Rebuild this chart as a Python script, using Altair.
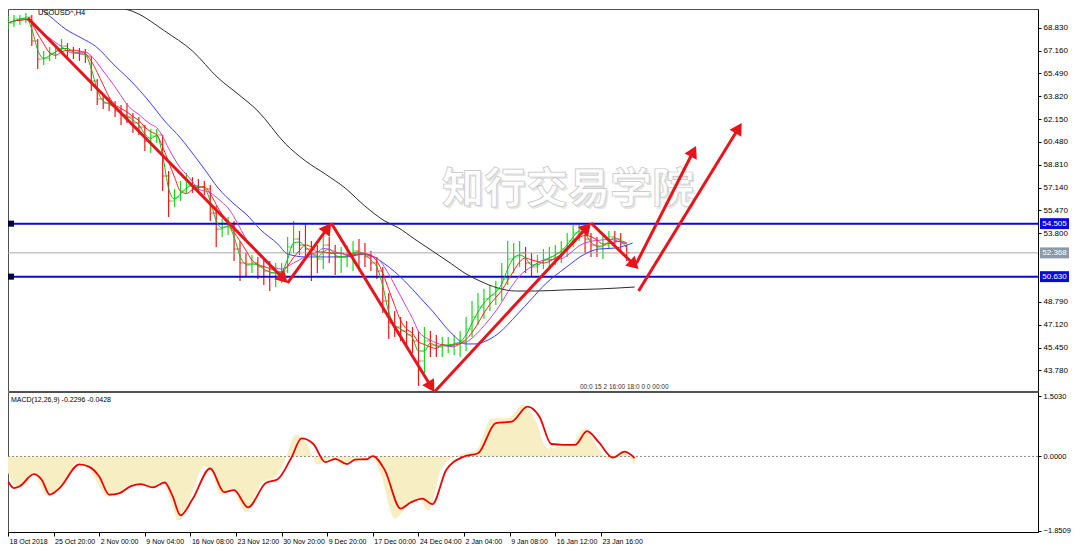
import math
import altair as alt
import pandas as pd

# ---------------- data ----------------
symbol_title = "USOUSD^,H4"
macd_title = "MACD(12,26,9) -0.2296 -0.0428"
watermark = "知行交易学院"
period_box = "00:0 15 2 16:00 18:0 0 0 00:00"

bar_step = 3  # H4 bars represented by each drawn bar
first_open = 69.03
bar_high = [69.68, 69.76, 69.76, 69.90, 69.76, 68.00, 67.13, 67.42, 67.56, 68.00,
            67.71, 67.42, 67.34, 67.27, 66.76, 65.08, 63.91, 63.76, 63.47, 63.18,
            63.32, 62.59, 62.30, 61.72, 61.42, 61.42, 60.99, 58.35, 57.04, 57.62,
            58.21, 57.91, 57.77, 57.62, 57.33, 55.79, 54.84, 54.99, 54.70, 53.24,
            52.36, 52.21, 52.07, 51.92, 51.77, 51.63, 51.63, 53.53, 54.70, 53.97,
            54.55, 53.24, 52.94, 53.82, 53.53, 52.94, 52.80, 52.94, 53.24, 53.38,
            53.09, 52.51, 52.07, 51.34, 49.44, 48.12, 47.68, 47.39, 46.95, 46.66,
            46.95, 46.66, 46.37, 46.22, 46.22, 46.37, 46.66, 47.68, 48.85, 49.44,
            49.73, 50.02, 50.31, 51.63, 53.24, 53.09, 53.24, 52.80, 52.36, 52.21,
            52.65, 52.80, 52.94, 53.24, 53.82, 54.41, 54.55, 54.26, 53.82, 53.53,
            53.68, 53.97, 53.97, 53.82, 52.94]
bar_low = [68.73, 68.88, 69.03, 69.17, 67.49, 65.81, 66.10, 66.39, 66.54, 66.98,
           66.69, 66.54, 66.39, 66.25, 64.20, 63.18, 62.89, 62.74, 62.30, 61.72,
           61.86, 61.13, 60.99, 59.82, 59.67, 60.40, 56.89, 54.99, 55.72, 56.16,
           56.75, 56.75, 56.75, 56.60, 54.70, 52.80, 53.53, 53.68, 51.77, 50.31,
           50.60, 50.90, 50.46, 50.02, 49.58, 49.87, 50.17, 50.90, 52.36, 52.21,
           51.92, 50.31, 50.90, 51.19, 51.63, 50.75, 50.90, 51.34, 51.04, 51.19,
           51.34, 51.04, 50.46, 47.97, 46.07, 46.22, 45.93, 45.49, 45.05, 42.64,
           43.59, 44.76, 44.76, 44.76, 45.05, 44.90, 44.76, 45.20, 46.22, 47.10,
           47.53, 48.12, 48.56, 48.85, 50.02, 50.90, 51.34, 50.90, 50.60, 50.90,
           51.19, 51.34, 51.48, 51.63, 52.07, 52.80, 53.24, 52.36, 52.07, 52.07,
           51.92, 52.65, 52.80, 52.36, 51.77]
bar_close = [69.17, 69.47, 69.47, 69.61, 67.86, 66.54, 66.61, 66.98, 67.13, 67.49,
             67.13, 66.98, 66.91, 66.76, 64.93, 63.62, 63.32, 63.18, 62.74, 62.45,
             62.30, 61.86, 61.57, 60.55, 60.91, 60.99, 57.99, 56.16, 56.45, 56.89,
             57.33, 57.26, 57.18, 57.04, 55.28, 54.11, 54.26, 54.41, 52.65, 51.63,
             51.48, 51.63, 51.34, 51.04, 50.90, 50.90, 51.04, 52.80, 53.38, 52.94,
             52.65, 52.21, 51.92, 52.94, 52.36, 52.07, 52.07, 52.21, 52.51, 52.36,
             52.07, 51.63, 51.04, 48.85, 47.24, 46.95, 46.66, 46.37, 45.93, 44.46,
             45.93, 45.63, 45.49, 45.63, 45.63, 45.78, 45.93, 46.80, 47.68, 48.41,
             49.00, 49.29, 49.73, 50.46, 51.92, 52.07, 52.36, 51.63, 51.34, 51.63,
             51.92, 52.07, 52.36, 52.65, 53.24, 53.82, 54.11, 53.38, 52.94, 52.80,
             52.94, 53.53, 53.38, 53.09, 52.37]

blue_ma_bar = [10, 13, 21, 29, 37, 44, 54, 62, 71, 79, 87, 91, 99, 106, 114, 120, 127, 136, 141, 150,
               160, 170, 180, 190, 200, 208, 214, 224, 231, 236, 241, 247, 257, 264, 271, 281, 291, 298, 306, 315]
blue_ma_val = [70.78, 70.56, 69.68, 68.73, 68.08, 67.49, 66.03, 64.93, 63.47, 62.01,
               60.77, 60.04, 58.50, 57.11, 55.94, 55.21, 54.11, 53.02, 52.29, 52.07,
               52.07, 52.07, 52.29, 51.56, 50.31, 49.07, 48.12, 46.44, 45.71, 45.71,
               45.93, 46.44, 47.90, 49.00, 50.09, 51.26, 52.29, 52.65, 52.72, 53.09]
black_ma_bar = [48, 52, 66, 79, 93, 106, 116, 126, 140, 150, 160, 170, 180, 190, 197, 205, 214, 223, 231,
                238, 247, 256, 266, 281, 298, 316]
black_ma_val = [70.85, 70.56, 69.83, 68.59, 67.13, 65.15, 63.98, 62.74, 60.33, 59.09,
                58.13, 57.11, 55.79, 54.70, 54.19, 53.38, 52.51, 51.63, 50.83, 50.31,
                49.80, 49.58, 49.58, 49.66, 49.73, 49.87]

level_values = [54.505, 50.630]
current_price = 52.368

arrow_from_bar = [10, 141, 163, 215, 294, 317, 318]
arrow_from_price = [69.54, 50.17, 54.55, 42.20, 54.55, 51.63, 49.58]
arrow_to_bar = [141, 163, 215, 294, 318, 347, 370]
arrow_to_price = [50.17, 54.55, 42.20, 54.55, 51.19, 60.18, 61.86]

macd_sig_bar = [0, 3, 6, 13, 17, 21, 26, 36, 41, 46, 51, 56, 62, 67, 73, 79, 83, 87, 93, 102,
                109, 114, 121, 130, 136, 143, 148, 154, 160, 165, 171, 175, 181, 184, 190, 198, 203, 209, 214, 221,
                230, 237, 246, 254, 262, 268, 274, 280, 286, 292, 298, 305, 311, 316]
macd_sig_val = [-0.62, -0.79, -0.74, -0.44, -0.58, -0.95, -0.79, -0.20, -0.26, -0.50,
                -0.95, -0.92, -0.74, -0.69, -0.77, -0.65, -0.99, -1.47, -1.07, -0.30,
                -0.89, -0.84, -1.27, -0.66, -0.57, -0.02, 0.45, 0.31, -0.14, -0.06,
                -0.19, -0.08, -0.07, 0.01, -0.34, -1.30, -1.15, -1.05, -1.19, -0.34,
                0.00, 0.08, 0.83, 0.87, 1.24, 0.99, 0.31, 0.29, 0.29, 0.63,
                0.35, -0.03, 0.12, -0.04]
macd_hist_bar = [0, 4, 9, 13, 16, 20, 25, 30, 35, 40, 45, 50, 55, 60, 66, 72, 78, 82, 86, 91,
                 99, 103, 107, 113, 120, 128, 135, 140, 145, 151, 156, 163, 169, 174, 180, 183, 188, 195, 202, 207,
                 212, 219, 228, 236, 244, 252, 260, 266, 272, 278, 284, 291, 297, 303, 310, 316]
macd_hist_val = [-0.40, -0.75, -0.70, -0.40, -0.70, -1.00, -0.85, -0.50, -0.15, -0.25,
                 -0.65, -1.00, -0.95, -0.75, -0.68, -0.78, -0.62, -1.10, -1.60, -1.15,
                 -0.25, -0.40, -0.95, -0.85, -1.40, -0.65, -0.50, -0.05, 0.55, 0.30,
                 -0.20, -0.05, -0.22, -0.08, -0.05, 0.05, -0.45, -1.55, -1.20, -1.05,
                 -1.35, -0.25, 0.05, 0.15, 0.95, 0.95, 1.30, 0.90, 0.20, 0.25,
                 0.30, 0.70, 0.25, -0.08, 0.15, -0.23]

price_ticks = [68.83, 67.16, 65.49, 63.82, 62.15, 60.48, 58.81, 57.14, 55.47, 53.80,
               48.79, 47.12, 45.45, 43.78]
macd_ticks = [1.503, 0.0, -1.8509]
time_label_bars = [0, 23, 46, 69, 92, 115, 138, 161, 184, 207, 230, 253, 276, 299]
time_labels = ["18 Oct 2018", "25 Oct 20:00", "2 Nov 00:00", "9 Nov 04:00", "16 Nov 08:00",
               "23 Nov 12:00", "30 Nov 20:00", "9 Dec 20:00", "17 Dec 00:00", "24 Dec 04:00",
               "2 Jan 04:00", "9 Jan 08:00", "16 Jan 12:00", "23 Jan 16:00"]

# ---------------- layout / style ----------------
FONT = "Liberation Sans"
W = 1030
PX_PER_BAR = 1.983
X_MAX = W / PX_PER_BAR
H_PRICE = 382
PRICE_DOMAIN = [42.27, 70.197]
H_MACD = 140
MACD_DOMAIN = [-1.884, 1.607]
GREEN = "#19d719"
RED = "#f01818"
ARROW_RED = "#e8141c"
LEVEL_BLUE = "#0a0ad2"

xscale = alt.Scale(domain=[0, X_MAX], nice=False, zero=False)
pscale = alt.Scale(domain=PRICE_DOMAIN, nice=False, zero=False)
mscale = alt.Scale(domain=MACD_DOMAIN, nice=False, zero=False)

price_axis = alt.Axis(orient="right", values=price_ticks, format=".3f", tickSize=3,
                      labelPadding=2, labelFontSize=8, labelFont=FONT, labelColor="#000",
                      domainColor="#000", tickColor="#000", grid=False, title=None,
                      labelBound=False, labelFlush=False, labelOverlap=False, labelSeparation=0)


def PY(field):
    return alt.Y(field, scale=pscale, axis=price_axis)


X = alt.X("bar:Q", scale=xscale, axis=None)

# candles
rows = []
prev = first_open
for k, (h, l, c) in enumerate(zip(bar_high, bar_low, bar_close)):
    rows.append(dict(bar=k * bar_step, high=h, low=l, open=prev, close=c))
    prev = c
candles = pd.DataFrame(rows)
ccolor = alt.condition("datum.close >= datum.open", alt.value(GREEN), alt.value(RED))

base_c = alt.Chart(candles)
wick = base_c.mark_rule(strokeWidth=1.2, clip=True).encode(
    x=X, y=PY("low:Q"), y2="high:Q", color=ccolor)
open_tick = base_c.transform_filter("datum.bar > 0").mark_tick(
    orient="horizontal", size=3, thickness=1, xOffset=-1.5, clip=True).encode(
    x=X, y=PY("open:Q"), color=ccolor)
close_tick = base_c.mark_tick(orient="horizontal", size=3, thickness=1, xOffset=1.5, clip=True).encode(
    x=X, y=PY("close:Q"), color=ccolor)


def fast_ma(span, color):
    return base_c.transform_window(ma="mean(close)", frame=[-span, 0], sort=[alt.SortField("bar")]).mark_line(
        color=color, strokeWidth=1, interpolate="monotone", clip=True).encode(
        x=X, y=PY("ma:Q"))


ma_green = fast_ma(1, "#16b816")
ma_red = fast_ma(3, "#ff2020")
ma_mag = fast_ma(6, "#d040d0")

blue_df = pd.DataFrame({"bar": blue_ma_bar, "v": blue_ma_val})
black_df = pd.DataFrame({"bar": black_ma_bar, "v": black_ma_val})
ma_blue = alt.Chart(blue_df).mark_line(color="#3c3cff", strokeWidth=1, interpolate="monotone", clip=True).encode(
    x=X, y=PY("v:Q"))
ma_black = alt.Chart(black_df).mark_line(color="#2a2a2a", strokeWidth=1, interpolate="monotone", clip=True).encode(
    x=X, y=PY("v:Q"))

cur_df = pd.DataFrame({"v": [current_price]})
cur_line = alt.Chart(cur_df).mark_rule(color="#a8a8a8", strokeWidth=1).encode(y=PY("v:Q"))
lev_df = pd.DataFrame({"v": level_values})
lev_df["lo"] = lev_df["v"] - 0.22
lev_df["hi"] = lev_df["v"] + 0.22
lev_lines = alt.Chart(lev_df).mark_rule(color=LEVEL_BLUE, strokeWidth=2).encode(y=PY("v:Q"))
lev_squares = alt.Chart(lev_df).mark_rect(color="#00003c").encode(
    x=alt.value(0), x2=alt.value(6), y=PY("lo:Q"), y2="hi:Q")

# axis price boxes
box_df = pd.DataFrame({
    "v": [level_values[0], current_price, level_values[1]],
    "txt": [f"{level_values[0]:.3f}", f"{current_price:.3f}", f"{level_values[1]:.3f}"],
    "c": [LEVEL_BLUE, "#8b9aa6", LEVEL_BLUE],
})
box_df["lo"] = box_df["v"] - 0.40
box_df["hi"] = box_df["v"] + 0.40
boxes = alt.Chart(box_df).mark_rect().encode(
    x=alt.value(W + 2), x2=alt.value(W + 31), y=PY("lo:Q"), y2="hi:Q",
    color=alt.Color("c:N", scale=None))
box_txt = alt.Chart(box_df).mark_text(color="white", fontSize=8, font=FONT, align="center", baseline="middle").encode(
    x=alt.value(W + 16.5), y=PY("v:Q"), text="txt:N")

# arrows
sx = W / X_MAX
sy = H_PRICE / (PRICE_DOMAIN[1] - PRICE_DOMAIN[0])
arows = []
for b0, p0, b1, p1 in zip(arrow_from_bar, arrow_from_price, arrow_to_bar, arrow_to_price):
    dx = (b1 - b0) * sx
    dy = -(p1 - p0) * sy
    L = math.hypot(dx, dy)
    ux, uy = dx / L, dy / L
    ang = math.degrees(math.atan2(ux, -uy)) % 360
    arows.append(dict(bar=b0, p0=p0,
                      b1=b1 - 9 * ux / sx, p1=p1 + 9 * uy / sy,
                      hb=b1 - 6 * ux / sx, hp=p1 + 6 * uy / sy, ang=ang))
arr_df = pd.DataFrame(arows)
arr_lines = alt.Chart(arr_df).mark_rule(color=ARROW_RED, strokeWidth=3).encode(
    x=X, x2="b1:Q", y=PY("p0:Q"), y2="p1:Q")
arr_heads = alt.Chart(arr_df).mark_point(shape="triangle-up", filled=True, color=ARROW_RED, size=190, opacity=1).encode(
    x=alt.X("hb:Q", scale=xscale, axis=None), y=PY("hp:Q"),
    angle=alt.Angle("ang:Q", scale=None))

# texts
one = pd.DataFrame({"t": [0]})
wm_shadow = alt.Chart(one).mark_text(text=watermark, fontSize=42, font="Noto Sans CJK SC", fontWeight="bold",
                                     color="#e6e6e6", align="center", baseline="middle").encode(
    x=alt.value(562), y=alt.value(183))
wm = alt.Chart(one).mark_text(text=watermark, fontSize=42, font="Noto Sans CJK SC", fontWeight="bold",
                              color="#fdfdfd", stroke="#c4c4c4", strokeWidth=0.7, align="center",
                              baseline="middle").encode(x=alt.value(560), y=alt.value(181))
title_txt = alt.Chart(one).mark_text(text=symbol_title, fontSize=7.5, font=FONT, color="#000", align="left",
                                     baseline="middle").encode(x=alt.value(30), y=alt.value(4))
period_txt = alt.Chart(one).mark_text(text=period_box, fontSize=6.5, font=FONT, color="#333", align="left",
                                      baseline="middle").encode(x=alt.value(572), y=alt.value(378))

price_chart = alt.layer(
    wick, wm_shadow, wm, cur_line, lev_lines, ma_black, ma_blue, open_tick, close_tick,
    ma_mag, ma_red, ma_green, arr_lines, arr_heads, lev_squares, boxes, box_txt, title_txt, period_txt
).properties(width=W, height=H_PRICE)

# MACD panel
time_expr = "[" + ",".join("'" + s + "'" for s in time_labels) + "][round(datum.value / 23)]"
x_axis = alt.Axis(values=time_label_bars, labelExpr=time_expr, labelAlign="left", labelOffset=1,
                  tickSize=4, labelFontSize=7, labelFont=FONT, labelPadding=1, labelColor="#000",
                  domainColor="#000", tickColor="#000", grid=False, title=None, labelOverlap=False,
                  labelFlush=False, labelBound=False)
macd_axis = alt.Axis(orient="right", values=macd_ticks, format=".4f", tickSize=3, labelPadding=2,
                     labelFontSize=7.5, labelFont=FONT, labelColor="#000", domainColor="#000",
                     tickColor="#000", grid=False, title=None, labelBound=False, labelFlush=False,
                     labelOverlap=False)
MX = alt.X("bar:Q", scale=xscale, axis=x_axis)


def MY(field):
    return alt.Y(field, scale=mscale, axis=macd_axis)


hist_df = pd.DataFrame({"bar": macd_hist_bar, "v": macd_hist_val})
sig_df = pd.DataFrame({"bar": macd_sig_bar, "v": macd_sig_val})
hist = alt.Chart(hist_df).mark_area(color="#f8eec4", interpolate="monotone", opacity=1).encode(
    x=MX, y=MY("v:Q"), y2=alt.datum(0))
zero = alt.Chart(pd.DataFrame({"v": [0.0]})).mark_rule(color="#8a8a8a", strokeDash=[2, 2], strokeWidth=1).encode(
    y=MY("v:Q"))
sig = alt.Chart(sig_df).mark_line(color="#ee0000", strokeWidth=1.8, interpolate="monotone", clip=True).encode(
    x=MX, y=MY("v:Q"))
macd_txt = alt.Chart(one).mark_text(text=macd_title, fontSize=7, font=FONT, color="#000", align="left",
                                    baseline="middle").encode(x=alt.value(3), y=alt.value(8))
macd_chart = alt.layer(hist, zero, sig, macd_txt).properties(width=W, height=H_MACD)

chart = alt.vconcat(price_chart, macd_chart, spacing=1, bounds="flush").properties(
    padding={"left": -2, "right": 0, "top": 0, "bottom": 0}, background="white"
).configure_view(stroke="#505050", strokeWidth=1).configure_axis(labelOverlap=False)

chart.save("out.html", embed_options={"renderer": "svg", "actions": False})
